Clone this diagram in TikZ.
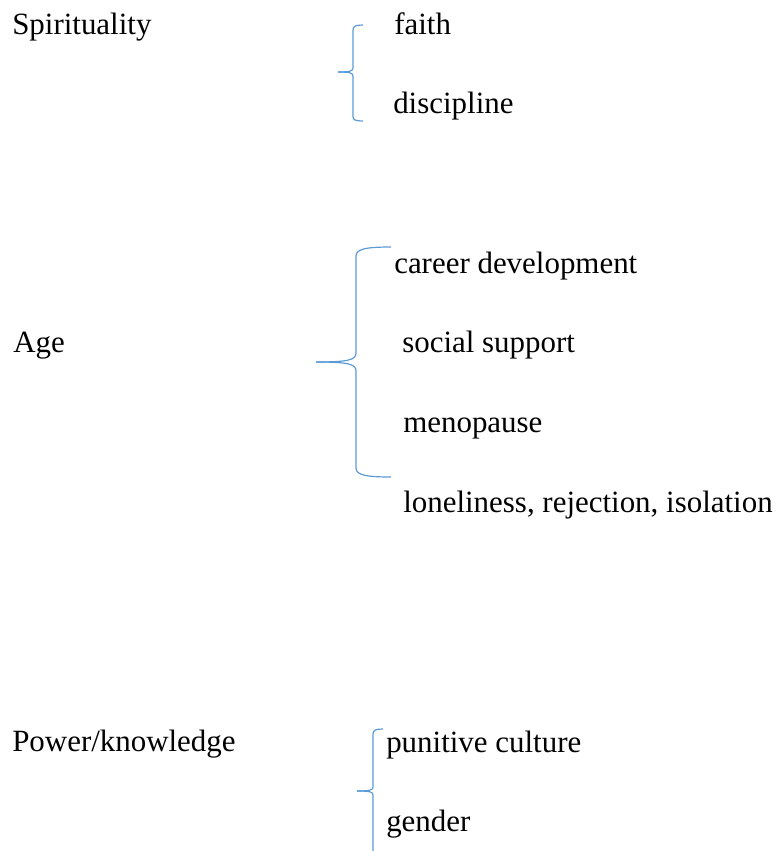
\documentclass[tikz,border=0pt]{standalone}
\usepackage{fontspec}
\setmainfont{Liberation Serif}
\usepackage{tikz}
\usetikzlibrary{
    positioning
}
\tikzset{
  theme/.style  = {anchor=base west, inner sep=0pt, font=\fontsize{23.2}{27}\selectfont},
  sub/.style    = {anchor=base west, inner sep=0pt, font=\fontsize{23.2}{27}\selectfont},
  brace/.style  = {draw=braceblue, line width=0.9pt}
}
\definecolor{braceblue}{RGB}{91,155,213}

\begin{document}
\begin{tikzpicture}[x=0.75pt, y=-0.75pt]
  \useasboundingbox (0,0) rectangle (779,851);

  % themes
  \node[theme] (spirit) at (12,34)  {Spirituality};
  \node[theme] (age)    at (13,352) {Age};
  \node[theme] (power)  at (12,751) {Power/knowledge};

  % spirituality
  \node[sub] (faith)      at (394,34)  {faith};
  \node[sub] (discipline) at (393,113) {discipline};
  \draw[brace] (363,25) .. controls (356,25) and (353,26) .. (353,30) -- (353,68)
               .. controls (353,71) and (350,72) .. (338,72);
  \draw[brace] (338,72) .. controls (350,72) and (353,73) .. (353,76) -- (353,117)
               .. controls (353,120) and (356,121) .. (363,121);

  % age
  \node[sub] (career) at (394,273) {career development};
  \node[sub] (social) at (402,352) {social support};
  \node[sub] (meno)   at (403,432) {menopause};
  \node[sub] (lonely) at (403,512) {loneliness, rejection, isolation};
  \draw[brace] (391,247) .. controls (366,247) and (356,249) .. (356,256) -- (356,353)
               .. controls (356,360) and (348,362) .. (316,362);
  \draw[brace] (316,362) .. controls (348,362) and (356,364) .. (356,371) -- (356,468)
               .. controls (356,475) and (366,477) .. (391,477);

  % power/knowledge
  \node[sub] (punitive) at (386,752) {punitive culture};
  \node[sub] (gender)   at (386,831) {gender};
  \draw[brace] (383,729) .. controls (376,729) and (373,730) .. (373,734) -- (373,787)
               .. controls (373,790) and (370,791) .. (357,791);
  \draw[brace] (357,791) .. controls (370,791) and (373,792) .. (373,795) -- (373,851);
\end{tikzpicture}
\end{document}
